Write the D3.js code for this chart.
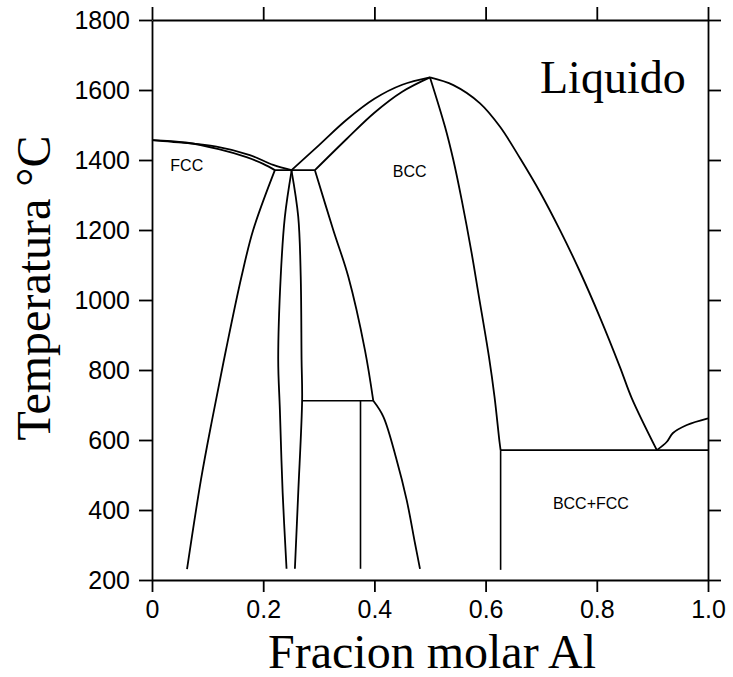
<!DOCTYPE html>
<html>
<head>
<meta charset="utf-8">
<script src="https://cdn.jsdelivr.net/npm/d3@7"></script>
<style>
  body { margin: 0; background: #fff; }
  svg { display: block; }
</style>
</head>
<body>
<div class="chart"></div>
<script>
// tick values and labels
var xTicks = [0, 0.2, 0.4, 0.6, 0.8, 1.0];
var xTickLabels = ["0", "0.2", "0.4", "0.6", "0.8", "1.0"];
var yTicks = [200, 400, 600, 800, 1000, 1200, 1400, 1600, 1800];

// phase boundaries: [fraccion molar Al, temperatura C]
var fccLiquidus = [[0, 1457], [0.036, 1452], [0.116, 1438], [0.176, 1414], [0.218, 1386], [0.251, 1371]];
var fccSolidus = [[0, 1457], [0.06, 1450], [0.12, 1431], [0.17, 1408], [0.2, 1389], [0.221, 1371]];
var fccSolvus = [[0.221, 1371], [0.182, 1200], [0.161, 1067], [0.133, 857], [0.108, 657], [0.088, 486], [0.063, 231]];
var bccLiquidus = [[0.251, 1371], [0.3, 1442], [0.35, 1515], [0.4, 1575], [0.45, 1615], [0.5, 1636]];
var bccSolidus = [[0.293, 1371], [0.35, 1460], [0.4, 1535], [0.45, 1595], [0.5, 1636]];
var lensLeft = [[0.251, 1369], [0.239, 1238], [0.2315, 1067], [0.227, 829], [0.23, 686], [0.235, 449], [0.242, 232]];
var lensRight = [[0.251, 1369], [0.263, 1238], [0.2675, 1067], [0.269, 829], [0.27, 714], [0.263, 449], [0.257, 232]];
var bccSolvusLeft = [[0.293, 1371], [0.326, 1200], [0.353, 1067], [0.383, 857], [0.398, 712]];
var bccSolvusLow = [[0.398, 712], [0.416, 667], [0.44, 543], [0.458, 429], [0.473, 305], [0.482, 232]];
var bccSolvusRight = [[0.5, 1636], [0.527, 1495], [0.542, 1400], [0.557, 1286], [0.575, 1133], [0.587, 1019], [0.606, 838], [0.616, 724], [0.625, 595], [0.627, 571]];
var liquidusRight = [[0.5, 1636], [0.542, 1614], [0.59, 1562], [0.626, 1495], [0.662, 1405], [0.698, 1308], [0.734, 1199], [0.77, 1080], [0.806, 949], [0.842, 807], [0.863, 719], [0.908, 571]];
var liquidusAl = [[0.908, 571], [0.926, 595], [0.937, 620], [0.962, 643], [1.0, 662]];
var straightLines = [
  [[0.221, 1371], [0.293, 1371]],
  [[0.27, 712], [0.398, 712]],
  [[0.375, 712], [0.375, 232]],
  [[0.627, 571], [1.0, 571]],
  [[0.627, 571], [0.627, 229]]
];

// region labels
var regionLabels = [
  {text: "FCC", x: 0.033, t: 1370},
  {text: "BCC", x: 0.433, t: 1352},
  {text: "BCC+FCC", x: 0.721, t: 403}
];

var svgWidth = 733;
var svgHeight = 677;

var svg = d3.select(".chart")
    .append("svg")
    .attr("width", svgWidth)
    .attr("height", svgHeight);

var xScale = d3.scaleLinear().domain([0, 1]).range([152, 708]);
var yScale = d3.scaleLinear().domain([200, 1800]).range([580, 20]);

// axes on all four sides, ticks pointing out
var tickFont = "25px 'Liberation Sans', Arial, sans-serif";

var bottomAxis = d3.axisBottom(xScale).tickValues(xTicks).tickSize(12).tickSizeOuter(0).tickPadding(8)
    .tickFormat((d, i) => xTickLabels[i]);
var leftAxis = d3.axisLeft(yScale).tickValues(yTicks).tickSize(13).tickSizeOuter(0).tickPadding(9)
    .tickFormat(d3.format("d"));
var topAxis = d3.axisTop(xScale).tickValues(xTicks).tickSize(13).tickSizeOuter(0).tickFormat("");
var rightAxis = d3.axisRight(yScale).tickValues(yTicks).tickSize(13).tickSizeOuter(0).tickFormat("");

var gb = svg.append("g").attr("transform", "translate(0,580)").call(bottomAxis);
var gl = svg.append("g").attr("transform", "translate(152,0)").call(leftAxis);
var gt = svg.append("g").attr("transform", "translate(0,20)").call(topAxis);
var gr = svg.append("g").attr("transform", "translate(708,0)").call(rightAxis);

[gb, gl, gt, gr].forEach(function(g) {
    g.selectAll("path, line").attr("stroke", "#000").attr("stroke-width", 1.8);
    g.selectAll("text").style("font", tickFont).attr("fill", "#000");
});

// curves
var line = d3.line()
    .x(d => xScale(d[0]))
    .y(d => yScale(d[1]))
    .curve(d3.curveCatmullRom.alpha(0.5));

var curves = [fccLiquidus, fccSolidus, fccSolvus, bccLiquidus, bccSolidus, lensLeft, lensRight,
    bccSolvusLeft, bccSolvusLow, bccSolvusRight, liquidusRight, liquidusAl];

svg.append("g")
    .selectAll("path")
    .data(curves)
    .enter()
    .append("path")
    .attr("d", line)
    .attr("fill", "none")
    .attr("stroke", "#000")
    .attr("stroke-width", 1.8);

var straight = d3.line()
    .x(d => xScale(d[0]))
    .y(d => yScale(d[1]));

svg.append("g")
    .selectAll("path")
    .data(straightLines)
    .enter()
    .append("path")
    .attr("d", straight)
    .attr("fill", "none")
    .attr("stroke", "#000")
    .attr("stroke-width", 1.6);

// small region labels
svg.append("g")
    .selectAll("text")
    .data(regionLabels)
    .enter()
    .append("text")
    .attr("x", d => xScale(d.x))
    .attr("y", d => yScale(d.t))
    .style("font", "16px 'Liberation Sans', Arial, sans-serif")
    .text(d => d.text);

// big labels
svg.append("text")
    .attr("x", 540)
    .attr("y", 93)
    .style("font", "46px 'Liberation Serif', 'Times New Roman', serif")
    .text("Liquido");

svg.append("text")
    .attr("transform", "translate(50,288) rotate(-90)")
    .attr("text-anchor", "middle")
    .style("font", "48px 'Liberation Serif', 'Times New Roman', serif")
    .text("Temperatura \u00B0C");

svg.append("text")
    .attr("x", 432)
    .attr("y", 668)
    .attr("text-anchor", "middle")
    .style("font", "48px 'Liberation Serif', 'Times New Roman', serif")
    .text("Fracion molar Al");
</script>
</body>
</html>
